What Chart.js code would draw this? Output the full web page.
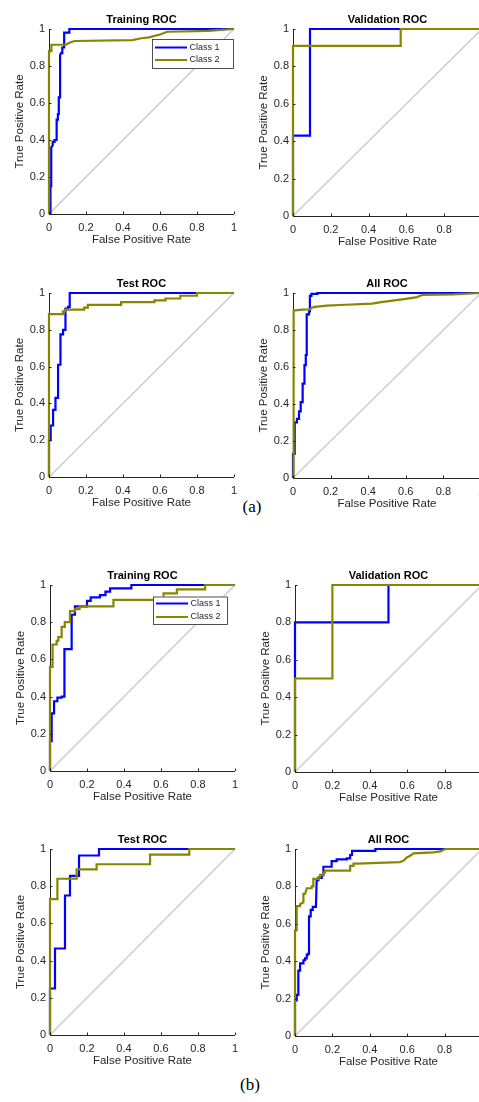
<!DOCTYPE html>
<html><head><meta charset="utf-8">
<script src="https://cdn.jsdelivr.net/npm/chart.js@4/dist/chart.umd.min.js"></script>
<style>
html,body{margin:0;padding:0;background:#fff;width:479px;height:1102px;overflow:hidden;position:relative;}
canvas{position:absolute;}
.cap{position:absolute;font-family:'Liberation Serif','Times New Roman',serif;font-size:17px;line-height:20px;color:#000;width:60px;text-align:center;}
</style></head><body>
<div class="cap" style="left:222px;top:497px">(a)</div>
<div class="cap" style="left:220px;top:1075px">(b)</div>
<script>
// ---------- data (FPR, TPR pairs) ----------
const seriesNames = ['Class 1', 'Class 2'];
const panelTitles = ['Training ROC', 'Validation ROC', 'Test ROC', 'All ROC', 'Training ROC', 'Validation ROC', 'Test ROC', 'All ROC'];
const xAxisTitle = 'False Positive Rate';
const yAxisTitle = 'True Positive Rate';
const tickValues = [0, 0.2, 0.4, 0.6, 0.8, 1];
const tickLabels = ['0', '0.2', '0.4', '0.6', '0.8', '1'];
const diagonal = [[0, 0], [1, 1]];

const trainA_c1 = [[0,0],[0.008,0],[0.008,0.15],[0.012,0.15],[0.012,0.36],[0.02,0.37],[0.02,0.39],[0.03,0.39],[0.03,0.40],[0.038,0.40],[0.038,0.45],[0.043,0.45],[0.043,0.51],[0.048,0.51],[0.048,0.54],[0.053,0.54],[0.053,0.63],[0.06,0.63],[0.06,0.86],[0.065,0.87],[0.072,0.87],[0.072,0.90],[0.082,0.90],[0.082,0.98],[0.11,0.98],[0.11,1],[1,1]];
const trainA_c2 = [[0,0],[0,0.88],[0.013,0.88],[0.013,0.915],[0.09,0.915],[0.1,0.92],[0.12,0.93],[0.14,0.935],[0.45,0.94],[0.5,0.95],[0.54,0.955],[0.6,0.97],[0.64,0.985],[0.86,0.99],[1,1]];
const valA_c1 = [[0,0],[0,0.43],[0.09,0.43],[0.09,1],[1,1]];
const valA_c2 = [[0,0],[0,0.91],[0.57,0.91],[0.57,1],[1,1]];
const testA_c1 = [[0,0],[0,0.2],[0.009,0.2],[0.009,0.28],[0.022,0.28],[0.022,0.365],[0.035,0.365],[0.035,0.43],[0.049,0.43],[0.049,0.61],[0.062,0.61],[0.062,0.775],[0.076,0.775],[0.076,0.8],[0.089,0.8],[0.089,0.915],[0.103,0.915],[0.103,0.925],[0.112,0.925],[0.112,1],[1,1]];
const testA_c2 = [[0,0],[0,0.885],[0.075,0.885],[0.075,0.9],[0.09,0.9],[0.09,0.91],[0.19,0.91],[0.19,0.92],[0.21,0.92],[0.21,0.935],[0.39,0.935],[0.39,0.95],[0.57,0.95],[0.57,0.96],[0.63,0.96],[0.63,0.97],[0.71,0.97],[0.71,0.985],[0.8,0.985],[0.8,1],[1,1]];
const allA_c1 = [[0,0],[0,0.13],[0.009,0.13],[0.009,0.30],[0.021,0.30],[0.021,0.32],[0.032,0.32],[0.032,0.36],[0.041,0.36],[0.041,0.41],[0.048,0.41],[0.048,0.465],[0.053,0.465],[0.053,0.51],[0.059,0.51],[0.059,0.545],[0.062,0.545],[0.062,0.61],[0.068,0.61],[0.068,0.665],[0.071,0.665],[0.071,0.77],[0.074,0.77],[0.074,0.885],[0.085,0.885],[0.085,0.9],[0.09,0.9],[0.09,0.985],[0.098,0.985],[0.098,0.995],[0.13,0.995],[0.13,1],[1,1]];
const allA_c2 = [[0,0],[0,0.88],[0.005,0.88],[0.005,0.905],[0.05,0.91],[0.09,0.912],[0.1,0.92],[0.115,0.925],[0.18,0.932],[0.25,0.935],[0.42,0.943],[0.47,0.951],[0.6,0.968],[0.66,0.978],[0.69,0.99],[0.85,0.993],[1,1]];
const trainB_c1 = [[0,0],[0,0.16],[0.009,0.16],[0.009,0.31],[0.022,0.31],[0.022,0.375],[0.04,0.375],[0.04,0.395],[0.063,0.395],[0.063,0.40],[0.078,0.40],[0.078,0.655],[0.117,0.655],[0.117,0.84],[0.135,0.84],[0.135,0.885],[0.2,0.885],[0.2,0.915],[0.22,0.915],[0.22,0.933],[0.27,0.933],[0.27,0.946],[0.3,0.946],[0.3,0.964],[0.325,0.964],[0.325,0.982],[0.44,0.982],[0.44,1],[1,1]];
const trainB_c2 = [[0,0],[0,0.56],[0.014,0.56],[0.014,0.68],[0.036,0.68],[0.036,0.70],[0.045,0.70],[0.045,0.72],[0.063,0.72],[0.063,0.775],[0.08,0.775],[0.08,0.80],[0.108,0.80],[0.108,0.86],[0.135,0.86],[0.135,0.87],[0.16,0.87],[0.16,0.885],[0.343,0.885],[0.343,0.92],[0.614,0.92],[0.614,0.955],[0.686,0.955],[0.686,0.977],[0.839,0.977],[0.839,1],[1,1]];
const valB_c1 = [[0,0],[0,0.8],[0.5,0.8],[0.5,1],[1,1]];
const valB_c2 = [[0,0],[0,0.5],[0.2,0.5],[0.2,1],[1,1]];
const testB_c1 = [[0,0],[0,0.25],[0.027,0.25],[0.027,0.465],[0.081,0.465],[0.081,0.75],[0.108,0.75],[0.108,0.855],[0.157,0.855],[0.157,0.965],[0.265,0.965],[0.265,1],[1,1]];
const testB_c2 = [[0,0],[0,0.73],[0.04,0.73],[0.04,0.84],[0.144,0.84],[0.144,0.89],[0.252,0.89],[0.252,0.918],[0.541,0.918],[0.541,0.97],[0.753,0.97],[0.753,1],[1,1]];
const allB_c1 = [[0,0],[0,0.19],[0.009,0.19],[0.009,0.22],[0.018,0.22],[0.018,0.35],[0.027,0.35],[0.027,0.388],[0.045,0.388],[0.045,0.405],[0.054,0.405],[0.054,0.415],[0.063,0.415],[0.063,0.435],[0.071,0.435],[0.071,0.44],[0.075,0.44],[0.075,0.64],[0.084,0.64],[0.084,0.675],[0.095,0.675],[0.095,0.69],[0.112,0.69],[0.116,0.834],[0.125,0.834],[0.125,0.845],[0.143,0.845],[0.143,0.86],[0.152,0.86],[0.152,0.905],[0.196,0.905],[0.196,0.935],[0.223,0.935],[0.223,0.945],[0.277,0.945],[0.277,0.95],[0.295,0.95],[0.295,0.968],[0.305,0.968],[0.305,0.99],[0.43,0.99],[0.43,1],[1,1]];
const allB_c2 = [[0,0],[0,0.565],[0.009,0.565],[0.009,0.695],[0.027,0.695],[0.027,0.705],[0.045,0.715],[0.045,0.76],[0.054,0.76],[0.063,0.79],[0.089,0.79],[0.089,0.80],[0.098,0.80],[0.098,0.84],[0.125,0.84],[0.125,0.85],[0.134,0.85],[0.134,0.862],[0.152,0.862],[0.152,0.875],[0.161,0.875],[0.161,0.884],[0.295,0.884],[0.295,0.91],[0.313,0.91],[0.313,0.922],[0.33,0.922],[0.56,0.93],[0.58,0.937],[0.598,0.955],[0.616,0.964],[0.634,0.977],[0.74,0.982],[0.777,0.987],[0.804,1],[1,1]];

const class1Curves = [trainA_c1, valA_c1, testA_c1, allA_c1, trainB_c1, valB_c1, testB_c1, allB_c1];
const class2Curves = [trainA_c2, valA_c2, testA_c2, allA_c2, trainB_c2, valB_c2, testB_c2, allB_c2];

// ---------- layout / style ----------
const BLUE = '#0000ff', OLIVE = '#868600', DIAG = '#cccccc', AXIS = '#262626', TXT = '#262626';
const FONT = "'Liberation Sans', Arial, Helvetica, sans-serif";
const areas = [
  {l:49, t:29, w:185, h:185}, {l:293, t:29, w:189, h:187},
  {l:49, t:293, w:185, h:184}, {l:293, t:293, w:188, h:185},
  {l:50, t:585, w:185, h:186}, {l:295, t:585, w:187, h:187},
  {l:50, t:849, w:185, h:186}, {l:295, t:849, w:187, h:187}
];
const legends = [
  {x:103, y:10, w:81, h:29, r1:8.5, r2:21}, null, null, null,
  {x:103, y:11.5, w:74, h:27.5, r1:7, r2:20.5}, null, null, null
];

const toPts = arr => arr.map(p => ({x: p[0], y: p[1]}));
const fmtTick = v => { const k = tickValues.findIndex(t => Math.abs(t - v) < 1e-9); return k >= 0 ? tickLabels[k] : ''; };

const matlabAxes = {
  id: 'matlabAxes',
  afterDatasetsDraw(chart, args, opts) {
    const {ctx, chartArea: a, scales: {x, y}} = chart;
    ctx.save();
    ctx.strokeStyle = AXIS; ctx.lineWidth = 1;
    ctx.beginPath();
    x.ticks.forEach(t => { const px = Math.round(x.getPixelForValue(t.value)) + 0.5; ctx.moveTo(px, a.bottom); ctx.lineTo(px, a.bottom - 2.5); });
    y.ticks.forEach(t => { const py = Math.round(y.getPixelForValue(t.value)) + 0.5; ctx.moveTo(a.left, py); ctx.lineTo(a.left + 2.5, py); });
    ctx.stroke();
    const lg = opts.box;
    if (lg) {
      const bx = a.left + lg.x, by = a.top + lg.y;
      ctx.fillStyle = '#fff';
      ctx.fillRect(bx, by, lg.w, lg.h);
      ctx.strokeStyle = AXIS; ctx.lineWidth = 0.8;
      ctx.strokeRect(bx + 0.5, by + 0.5, lg.w, lg.h);
      const rows = [[seriesNames[0], BLUE, lg.r1], [seriesNames[1], OLIVE, lg.r2]];
      ctx.font = '9px ' + FONT;
      ctx.textAlign = 'left'; ctx.textBaseline = 'middle';
      rows.forEach(([label, col, ry]) => {
        ctx.strokeStyle = col; ctx.lineWidth = 2;
        ctx.beginPath(); ctx.moveTo(bx + 3, by + ry); ctx.lineTo(bx + 35, by + ry); ctx.stroke();
        ctx.fillStyle = TXT; ctx.fillText(label, bx + 37.5, by + ry);
      });
    }
    ctx.restore();
  }
};

function makePanel(i) {
  const A = areas[i];
  const cv = document.createElement('canvas');
  cv.width = A.w + 60; cv.height = A.h + 70;
  cv.style.left = (A.l - 50) + 'px'; cv.style.top = (A.t - 30) + 'px';
  document.body.appendChild(cv);
  const lineDs = (label, data, color, width, order) => ({
    label, data: toPts(data), borderColor: color, backgroundColor: color, borderWidth: width,
    showLine: true, pointRadius: 0, pointHoverRadius: 0, tension: 0, fill: false, order,
    clip: {left: 4, top: 4, right: 4, bottom: 4}
  });
  new Chart(cv, {
    type: 'scatter',
    data: { datasets: [
      lineDs(seriesNames[1], class2Curves[i], OLIVE, 2.2, 0),
      lineDs(seriesNames[0], class1Curves[i], BLUE, 2.2, 1),
      lineDs('diagonal', diagonal, DIAG, 1.5, 2)
    ]},
    options: {
      responsive: false, animation: false, events: [],
      layout: { padding: { left: 0, right: 10, top: 0, bottom: 0 } },
      elements: { line: { borderCapStyle: 'butt', borderJoinStyle: 'miter' } },
      plugins: {
        legend: { display: false }, tooltip: { enabled: false },
        title: { display: true, text: panelTitles[i], fullSize: false, color: '#000',
          font: { family: FONT, size: 11, weight: 'bold', lineHeight: '13px' }, padding: { top: 14, bottom: 3 } },
        matlabAxes: { box: legends[i] }
      },
      scales: {
        x: {
          type: 'linear', position: 'bottom', min: 0, max: 1,
          afterFit: s => { s.height = 40; },
          afterBuildTicks: s => { s.ticks = tickValues.map(v => ({value: v})); },
          grid: { display: false, drawTicks: false },
          border: { display: true, color: AXIS, width: 1 },
          ticks: { padding: 7, color: TXT, maxRotation: 0, autoSkip: false, callback: v => fmtTick(v), font: { family: FONT, size: 11 } },
          title: { display: true, text: xAxisTitle, color: TXT, font: { family: FONT, size: 11.5, lineHeight: '14px' }, padding: { top: 0, bottom: 7 } }
        },
        y: {
          type: 'linear', position: 'left', min: 0, max: 1,
          afterFit: s => { s.width = 50; },
          afterBuildTicks: s => { s.ticks = tickValues.map(v => ({value: v})); },
          grid: { display: false, drawTicks: false },
          border: { display: true, color: AXIS, width: 1 },
          ticks: { padding: 4, color: TXT, autoSkip: false, callback: v => fmtTick(v), font: { family: FONT, size: 11 } },
          title: { display: true, text: yAxisTitle, color: TXT, font: { family: FONT, size: 11.5, lineHeight: '14px' }, padding: { top: 14, bottom: 0 } }
        }
      }
    },
    plugins: [matlabAxes]
  });
}
for (let i = 0; i < 8; i++) makePanel(i);
</script>
</body></html>
